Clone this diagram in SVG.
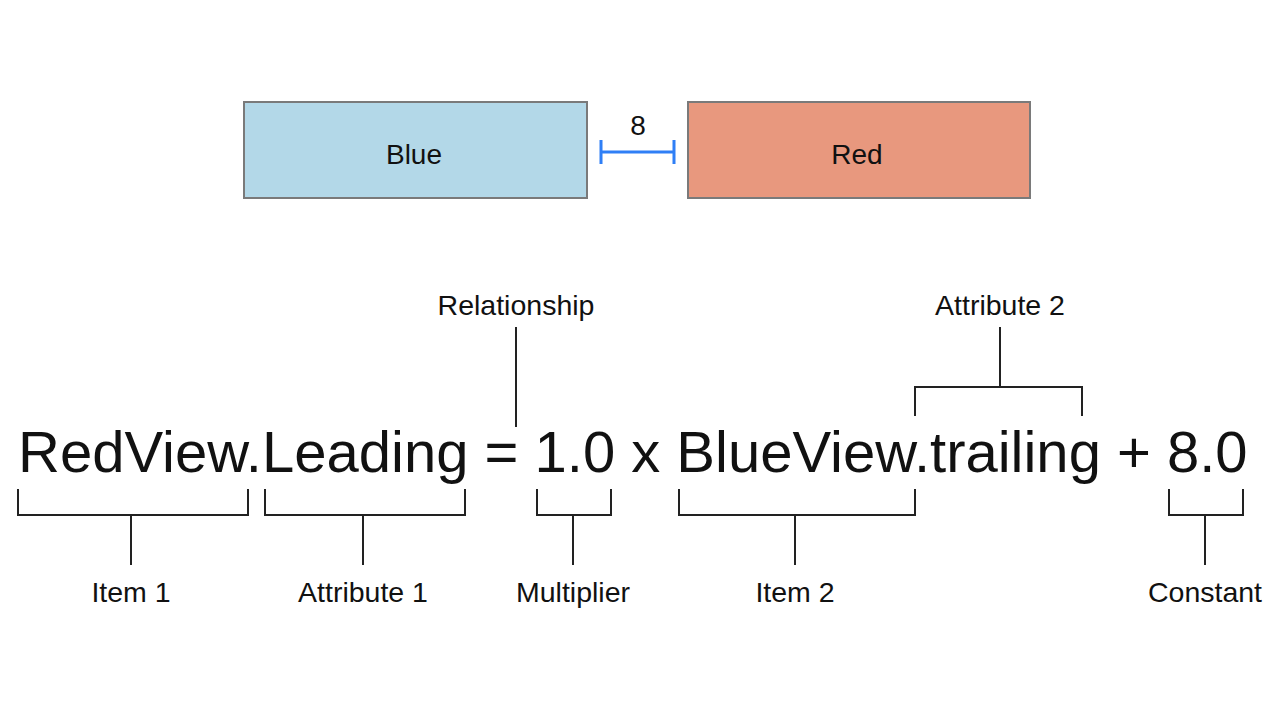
<svg xmlns="http://www.w3.org/2000/svg" width="1279" height="717" viewBox="0 0 1279 717">
<style>
.box{stroke:#7a7a7a;stroke-width:2}
.lbl{font-family:"Liberation Sans",Arial,Helvetica,sans-serif;font-size:28px;fill:#111;text-anchor:middle}
.small{font-family:"Liberation Sans",Arial,Helvetica,sans-serif;font-size:28.5px;fill:#111;text-anchor:middle}
.eq{font-family:"Liberation Sans",Arial,Helvetica,sans-serif;font-size:58px;fill:#111}
.br{fill:none;stroke:#222;stroke-width:2}
.dim{fill:none;stroke:#2f7ff6;stroke-width:3}
</style>
<rect width="1279" height="717" fill="#ffffff"/>
<g id="blue">
<rect class="box" x="244" y="102" width="343" height="96" fill="#b3d8e8"/>
<text class="lbl" x="414" y="164">Blue</text>
</g>
<g id="red">
<rect class="box" x="688" y="102" width="342" height="96" fill="#e8987e"/>
<text class="lbl" x="857" y="164">Red</text>
</g>
<g id="spacing">
<path class="dim" d="M601 140V164M674 140V164M601 152H674"/>
<text class="lbl" x="638" y="135">8</text>
</g>
<g id="equation">
<text class="eq" x="18" y="472">RedView.Leading = 1.0 x BlueView.trailing + 8.0</text>
</g>
<g id="connectors">
<path class="br" d="M18 489V515H248V489M131 515V565"/>
<path class="br" d="M265 489V515H465V489M363 515V565"/>
<path class="br" d="M537 489V515H611V489M573 515V565"/>
<path class="br" d="M679 489V515H915V489M795 515V565"/>
<path class="br" d="M1169 489V515H1243V489M1205 515V565"/>
<path class="br" d="M516 327V427"/>
<path class="br" d="M915 416V387H1082V416M1000 387V327"/>
</g>
<g id="labels">
<text class="small" x="131" y="602">Item 1</text>
<text class="small" x="363" y="602">Attribute 1</text>
<text class="small" x="573" y="602">Multiplier</text>
<text class="small" x="795" y="602">Item 2</text>
<text class="small" x="1205" y="602">Constant</text>
<text class="small" x="516" y="315">Relationship</text>
<text class="small" x="1000" y="315">Attribute 2</text>
</g>
</svg>
